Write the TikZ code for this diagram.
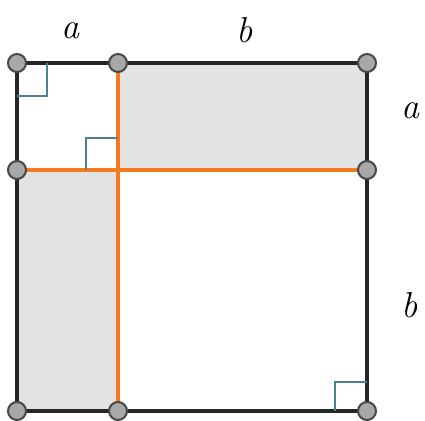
\documentclass[tikz,border=0pt]{standalone}
\usepackage{xcolor}
\usepackage{tikz}
\usetikzlibrary{calc}
\definecolor{sideOrange}{HTML}{F57A1E}
\definecolor{angleTeal}{HTML}{4C8196}
\definecolor{fillGray}{HTML}{E3E3E3}
\definecolor{dotGray}{HTML}{A8A8A8}
\definecolor{frameBlack}{HTML}{262626}

\begin{document}
\begin{tikzpicture}[x=0.75pt, y=-0.75pt,
    frame/.style={line width=3.2pt, frameBlack},
    split/.style={line width=2.4pt, sideOrange},
    angleMark/.style={line width=2.2pt, angleTeal},
    dot/.style={circle, draw=frameBlack!85, line width=1.5pt, fill=dotGray, minimum size=13.5pt, inner sep=0pt},
    lbl/.style={font=\fontsize{27}{32}\selectfont\itshape}]
    \useasboundingbox (0,0) rectangle (425,421);

    % corners and split points
    \coordinate (tl) at (17,63);
    \coordinate (tm) at (118,63);
    \coordinate (tr) at (367,63);
    \coordinate (ml) at (17,170);
    \coordinate (c) at (118,170);
    \coordinate (mr) at (367,170);
    \coordinate (bl) at (17,411);
    \coordinate (bm) at (118,411);
    \coordinate (br) at (367,411);

    \fill[fillGray] (tm) rectangle (mr);
    \fill[fillGray] (ml) rectangle (bm);
    \draw[split] (tm) rectangle (mr);
    \draw[split] (ml) rectangle (bm);

    \draw[frame] (tl) rectangle (br);

    \draw[angleMark] ($(tl)+(0,33)$) -| ($(tl)+(30,0)$);
    \draw[angleMark] ($(c)+(-32,0)$) |- ($(c)+(0,-32)$);
    \draw[angleMark] ($(br)+(-32,0)$) |- ($(br)+(0,-29)$);

    \foreach \p in {tl,tm,tr,ml,mr,bl,bm,br}
        \node[dot] (d-\p) at (\p) {};

    \node[lbl] (top-a) at (70,31) {a};
    \node[lbl] (top-b) at (245,30) {b};
    \node[lbl] (side-a) at (410,111) {a};
    \node[lbl] (side-b) at (410,305) {b};
\end{tikzpicture}
\end{document}
